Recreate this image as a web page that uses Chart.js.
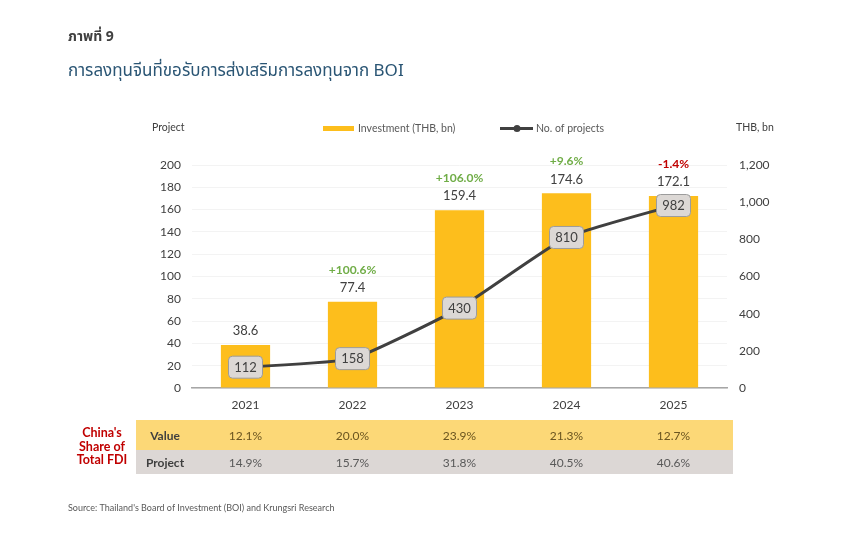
<!DOCTYPE html>
<html>
<head>
<meta charset="utf-8">
<script src="https://cdn.jsdelivr.net/npm/chart.js@4.4.1/dist/chart.umd.min.js"></script>
<style>
	html, body { margin: 0; background: #fff; }
	canvas { display: block; }
</style>
</head>
<body>
<canvas id="boiChart" width="860" height="543"></canvas>
<script>
let years = ['2021', '2022', '2023', '2024', '2025'];
let investment = [38.6, 77.4, 159.4, 174.6, 172.1];      // THB bn, bars (left axis)
let projects = [112, 158, 430, 810, 982];                 // no. of projects, line (right axis)
let investmentGrowth = [null, 100.6, 106.0, 9.6, -1.4];   // % change, shown above bars
let shareValue = [12.1, 20.0, 23.9, 21.3, 12.7];          // China's share of total FDI, value
let shareProject = [14.9, 15.7, 31.8, 40.5, 40.6];        // China's share of total FDI, projects

let barColor = '#fdbe1c';
let lineColor = '#404040';
let latin = 'Lato, "Noto Sans", sans-serif';
let thai = '"Noto Sans Thai", "Noto Sans", "DejaVu Sans", sans-serif';

let txt = function (ctx, s, x, y, font, color, align) {
	ctx.font = font;
	ctx.fillStyle = color;
	ctx.textAlign = align || 'center';
	ctx.textBaseline = 'middle';
	ctx.fillText(s, x, y);
};

let decorations = {
	id: 'decorations',
	afterDraw: function (chart) {
		let ctx = chart.ctx;
		let xs = chart.scales.x;
		ctx.save();

		// headings
		txt(ctx, 'ภาพที่ 9', 68, 38, 'bold 14px ' + thai, '#404040', 'left');
		txt(ctx, 'การลงทุนจีนที่ขอรับการส่งเสริมการลงทุนจาก BOI', 68, 73, '17px ' + thai, '#2a5574', 'left');

		// axis titles
		txt(ctx, 'Project', 152, 128, '10.5px ' + latin, '#404040', 'left');
		txt(ctx, 'THB, bn', 736, 128, '10.5px ' + latin, '#404040', 'left');

		// legend
		let ds = chart.data.datasets;
		ctx.fillStyle = barColor;
		ctx.fillRect(323, 126, 31, 5);
		txt(ctx, ds[0].label, 358, 128.5, '10.5px ' + latin, '#595959', 'left');
		ctx.strokeStyle = lineColor;
		ctx.lineWidth = 3;
		ctx.beginPath();
		ctx.moveTo(500, 128.5);
		ctx.lineTo(533, 128.5);
		ctx.stroke();
		ctx.fillStyle = lineColor;
		ctx.beginPath();
		ctx.arc(517, 128.5, 3.5, 0, Math.PI * 2);
		ctx.fill();
		txt(ctx, ds[1].label, 536, 128.5, '10.5px ' + latin, '#595959', 'left');

		// bar labels
		let bars = chart.getDatasetMeta(0).data;
		bars.forEach(function (el, i) {
			txt(ctx, investment[i].toFixed(1), el.x, el.y - 14, '13px ' + latin, '#404040');
			let g = investmentGrowth[i];
			if (g !== null) {
				let s = (g > 0 ? '+' : '') + g.toFixed(1) + '%';
				txt(ctx, s, el.x, el.y - 32, 'bold 12px ' + latin, g > 0 ? '#70ad47' : '#c00000');
			}
		});

		// line point boxes
		let pts = chart.getDatasetMeta(1).data;
		pts.forEach(function (el, i) {
			let w = 34, h = 22;
			ctx.beginPath();
			ctx.roundRect(el.x - w / 2, el.y - h / 2, w, h, 4);
			ctx.fillStyle = '#dcd8d5';
			ctx.fill();
			ctx.lineWidth = 1;
			ctx.strokeStyle = '#9c9c9c';
			ctx.stroke();
			txt(ctx, String(projects[i]), el.x, el.y + 0.5, '13px ' + latin, '#404040');
		});

		// share table
		let left = 136, right = 733;
		ctx.fillStyle = '#fcd877';
		ctx.fillRect(left, 420, right - left, 30);
		ctx.fillStyle = '#dcd7d5';
		ctx.fillRect(left, 450, right - left, 24);
		txt(ctx, 'Value', 165, 436, 'bold 12px ' + latin, '#3f3f3f');
		txt(ctx, 'Project', 165, 463.5, 'bold 12px ' + latin, '#3f3f3f');
		years.forEach(function (y, i) {
			let x = xs.getPixelForValue(i);
			txt(ctx, shareValue[i].toFixed(1) + '%', x, 436, '12px ' + latin, '#6b5520');
			txt(ctx, shareProject[i].toFixed(1) + '%', x, 463.5, '12px ' + latin, '#595959');
		});
		txt(ctx, "China's", 102, 433, 'bold 12.5px ' + latin, '#c00000');
		txt(ctx, 'Share of', 102, 446.5, 'bold 12.5px ' + latin, '#c00000');
		txt(ctx, 'Total FDI', 102, 460, 'bold 12.5px ' + latin, '#c00000');

		// source
		txt(ctx, "Source: Thailand's Board of Investment (BOI) and Krungsri Research", 68, 508, '9px ' + latin, '#595959', 'left');

		ctx.restore();
	}
};

let chart = new Chart("boiChart", {
	type: 'bar',
	data: {
		labels: years,
		datasets: [{
			type: 'bar',
			label: 'Investment (THB, bn)',
			data: investment,
			backgroundColor: barColor,
			yAxisID: 'y',
			categoryPercentage: 1,
			barPercentage: 0.46,
			order: 2
		}, {
			type: 'line',
			label: 'No. of projects',
			data: projects,
			borderColor: lineColor,
			borderWidth: 3,
			pointRadius: 0,
			tension: 0.15,
			yAxisID: 'y1',
			order: 1
		}]
	},
	options: {
		responsive: false,
		animation: false,
		layout: { padding: { top: 165, left: 0, right: 0, bottom: 0 } },
		plugins: {
			legend: { display: false },
			tooltip: { enabled: false }
		},
		scales: {
			x: {
				grid: { display: false, drawTicks: false },
				border: { color: '#a6a6a6', width: 1.5 },
				ticks: { color: '#404040', font: { family: latin, size: 12 }, padding: 10 },
				afterFit: function (s) { s.height = 155; }
			},
			y: {
				position: 'left',
				min: 0,
				max: 200,
				ticks: { stepSize: 20, color: '#404040', font: { family: latin, size: 12 }, padding: 11 },
				grid: { color: '#f3f3f3', drawTicks: false },
				border: { display: false },
				afterFit: function (s) { s.width = 192; }
			},
			y1: {
				position: 'right',
				min: 0,
				max: 1200,
				ticks: {
					stepSize: 200,
					color: '#404040',
					font: { family: latin, size: 12 },
					padding: 12,
					callback: function (v) { return v.toLocaleString('en-US'); }
				},
				grid: { display: false, drawTicks: false },
				border: { display: false },
				afterFit: function (s) { s.width = 133; }
			}
		}
	},
	plugins: [decorations]
});
</script>
</body>
</html>
